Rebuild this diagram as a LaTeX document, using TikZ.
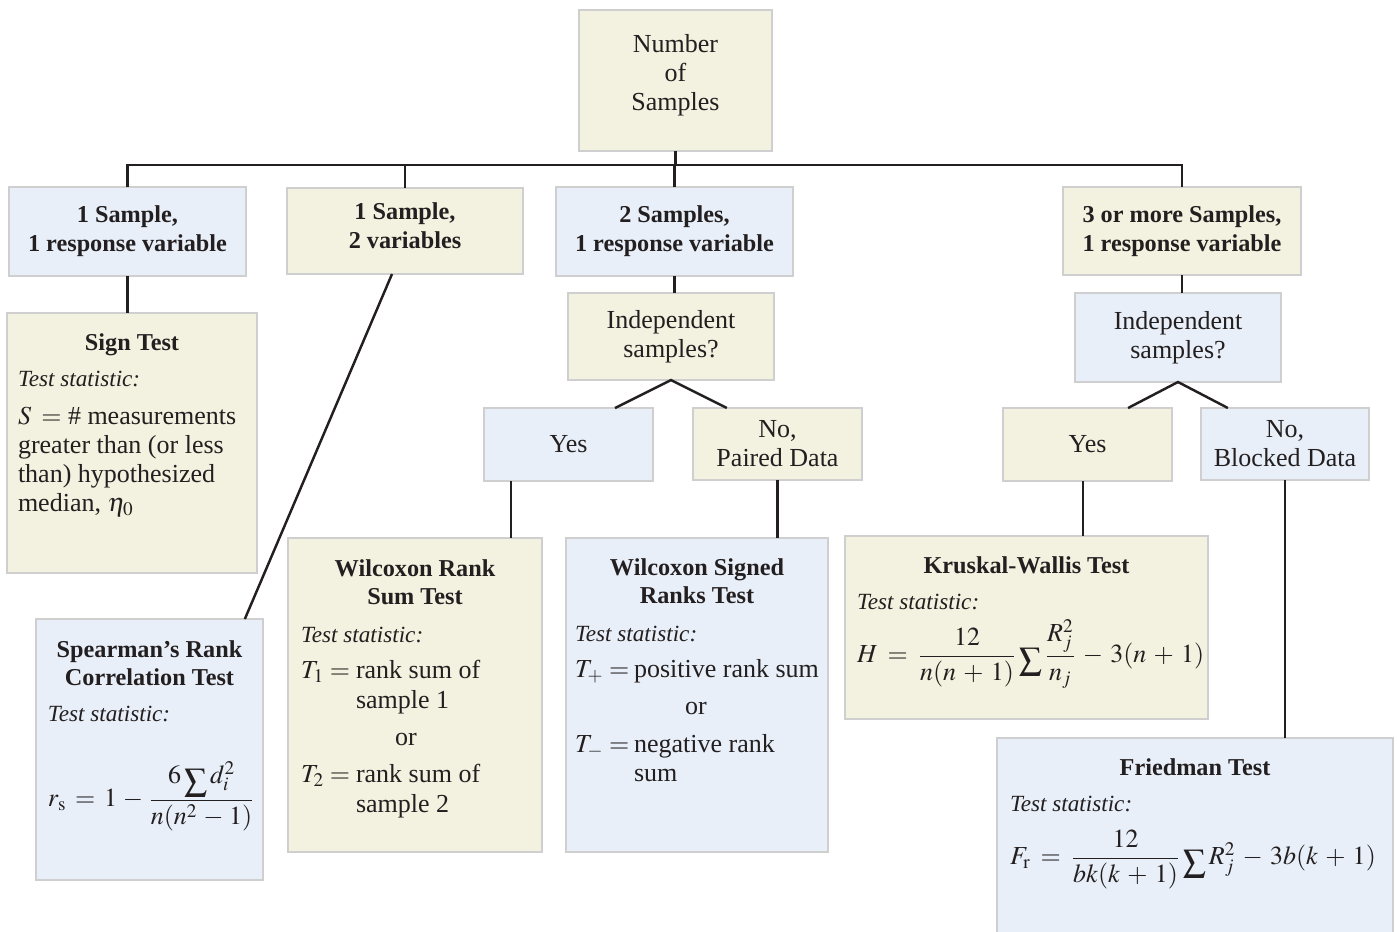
\documentclass[tikz,border=0pt]{standalone}
\usepackage{amsmath}
\usepackage{graphicx}
\usepackage{mathptmx}
\usepackage{fontspec}
\setmainfont{Liberation Serif}
\usetikzlibrary{calc}
\newlength\px \setlength\px{0.02cm}
\definecolor{yel}{HTML}{F3F1DF}
\definecolor{blu}{HTML}{E8EFF8}
\definecolor{bordc}{HTML}{CFCFCF}
\definecolor{ink}{HTML}{231F20}
\newcommand\rg{\fontsize{14.8}{16.5}\selectfont}
\newcommand\bd{\fontsize{13.8}{16.5}\selectfont\bfseries}
\newcommand\itx{\fontsize{13.2}{16.5}\selectfont\itshape}
\newcommand\tight{\lineskiplimit=-100pt\lineskip=0pt\raggedright}
\newcommand\fm[3]{\mbox{\thickmuskip=#1mu\medmuskip=#2mu\relax$#3$}}
\newcommand\bigsum{\mathop{\raisebox{-0.28em}{\scalebox{1.25}{$\textstyle\sum$}}}\nolimits}
\newcommand\stk[2]{\raisebox{#1\px}[\height][\depth]{\begin{tabular}{@{}c@{}}#2\end{tabular}}}
\tikzset{
  bx/.style={draw=bordc, line width=0.7pt, inner sep=0pt, outer sep=0pt, text=ink},
  sz/.style 2 args={minimum width=#1*0.02cm, minimum height=#2*0.02cm},
  lbl/.style={bx, align=center, font=\rg},
  hd/.style={bx, align=center, font=\bd},
  tb/.style={bx, anchor=north west, inner xsep=#1*0.02cm},
  ln/.style={draw=ink, line width=1.4pt}
}
\begin{document}
\begin{tikzpicture}[x=0.02cm, y=-0.02cm]
\useasboundingbox (0,0) rectangle (1397,931);
\coordinate (bus) at (0,165);
% top level
\node[lbl, fill=yel, sz={193}{141}] (top) at (675.5,80.5) {\stk{5}{Number\\of\\Samples}};
\node[hd, fill=blu, sz={237}{89}] (b1) at (127.5,231.5) {1 Sample,\\1 response variable};
\node[hd, fill=yel, sz={236}{86}] (b2) at (405,231) {\stk{3}{1 Sample,\\2 variables}};
\node[hd, fill=blu, sz={237}{89}] (b3) at (674.5,231.5) {2 Samples,\\1 response variable};
\node[hd, fill=yel, sz={238}{88}] (b4) at (1182,231) {3 or more Samples,\\1 response variable};
% questions
\node[lbl, fill=yel, sz={206}{87}] (i2) at (671,336.5) {Independent\\samples?};
\node[lbl, fill=blu, sz={169}{73}] (y2) at (568.5,444.5) {Yes};
\node[lbl, fill=yel, sz={169}{72}] (n2) at (777.5,444) {No,\\Paired Data};
\node[lbl, fill=blu, sz={206}{89}] (i3) at (1178,337.5) {Independent\\samples?};
\node[lbl, fill=yel, sz={169}{73}] (y3) at (1087.5,444.5) {Yes};
\node[lbl, fill=blu, sz={168}{72}] (n3) at (1285,444) {No,\\Blocked Data};
% test boxes
\node[tb=11, fill=yel] (sign) at (7,313) {\begin{minipage}[c][260\px][t]{228\px}\tight
\vspace*{16.7\px}
{\centering\bd\strut Sign Test\par}
\vspace{8\px}
{\itx Test statistic:\par}
\vspace{9\px}
{\rg \fm{7}{5}{S =} \# measurements\\greater than (or less\\than) hypothesized\\median, $\eta_0$\par}
\end{minipage}};
\node[tb=12, fill=blu] (sp) at (36,619) {\begin{minipage}[c][261\px][t]{203\px}\tight
\vspace*{17.7\px}
{\centering\bd\strut Spearman's Rank\\Correlation Test\par}
\vspace{7\px}
{\itx Test statistic:\par}
\vspace{56\px}
{\rg \fm{6}{4}{r_{\mathrm{s}} = 1 - \dfrac{6\bigsum d_i^2}{n(n^2 - 1)}}\par}
\end{minipage}};
\node[tb=13, fill=yel] (wr) at (288,538) {\begin{minipage}[c][314\px][t]{228\px}\tight
\vspace*{17.7\px}
{\centering\bd\strut Wilcoxon Rank\\Sum Test\par}
\vspace{9\px}
{\itx Test statistic:\par}
\vspace{7\px}
{\rg \makebox[55\px][l]{$T_1 =$}rank sum of\par}
\vspace{1\px}
{\rg \hspace*{55\px}sample 1\par}
\vspace{8\px}
{\rg \hspace*{94\px}or\par}
\vspace{8\px}
{\rg \makebox[55\px][l]{$T_2 =$}rank sum of\par}
\vspace{1\px}
{\rg \hspace*{55\px}sample 2\par}
\end{minipage}};
\node[tb=9, fill=blu] (ws) at (566,538) {\begin{minipage}[c][314\px][t]{244\px}\tight
\vspace*{16.7\px}
{\centering\bd\strut Wilcoxon Signed\\Ranks Test\par}
\vspace{9\px}
{\itx Test statistic:\par}
\vspace{7\px}
{\rg \makebox[59\px][l]{$T_+ =$}\mbox{positive rank sum}\par}
\vspace{8\px}
{\rg \hspace*{110\px}or\par}
\vspace{9\px}
{\rg \makebox[59\px][l]{$T_- =$}negative rank\par}
{\rg \hspace*{59\px}sum\par}
\end{minipage}};
\node[tb=12, fill=yel] (kw) at (845,536) {\begin{minipage}[c][183\px][t]{339\px}\tight
\vspace*{16.7\px}
{\centering\bd\strut Kruskal-Wallis Test\par}
\vspace{8\px}
{\itx Test statistic:\par}
\vspace{24\px}
{\rg \fm{7}{5}{H = \dfrac{12}{n(n + 1)}\bigsum\dfrac{R_j^2}{n_j} - 3(n + 1)}\par}
\end{minipage}};
\node[tb=13, fill=blu] (fr) at (997,738) {\begin{minipage}[c][210\px][t]{370\px}\tight
\vspace*{16.7\px}
{\centering\bd\strut Friedman Test\par}
\vspace{8\px}
{\itx Test statistic:\par}
\vspace{24\px}
{\rg \fm{7}{5}{F_{\mathrm{r}} = \dfrac{12}{bk(k + 1)}\bigsum R_j^2 - 3b(k + 1)}\par}
\end{minipage}};
% connectors
\draw[ln] (top.south) -- (top.south |- bus);
\draw[ln] (b1.north) -- (b1.north |- bus) -- (b4.north |- bus) -- (b4.north);
\draw[ln] (b2.north) -- (b2.north |- bus);
\draw[ln] (b3.north) -- (b3.north |- bus);
\draw[ln] (b1.south) -- (b1.south |- sign.north);
\draw[ln] ($(b2.south west)!0.445!(b2.south east)$) -- ($(sp.north west)!0.92!(sp.north east)$);
\draw[ln] (b3.south) -- (b3.south |- i2.north);
\draw[ln] ($(y2.north west)!0.775!(y2.north east)$) -- (i2.south) -- ($(n2.north west)!0.2!(n2.north east)$);
\draw[ln] ($(y2.south west)!0.16!(y2.south east)$) coordinate (a) -- (a |- wr.north);
\draw[ln] (n2.south) -- (n2.south |- ws.north);
\draw[ln] (b4.south) -- (b4.south |- i3.north);
\draw[ln] ($(y3.north west)!0.74!(y3.north east)$) -- (i3.south) -- ($(n3.north west)!0.16!(n3.north east)$);
\draw[ln] ($(y3.south west)!0.473!(y3.south east)$) coordinate (c) -- (c |- kw.north);
\draw[ln] (n3.south) -- (n3.south |- fr.north);
\end{tikzpicture}
\end{document}
